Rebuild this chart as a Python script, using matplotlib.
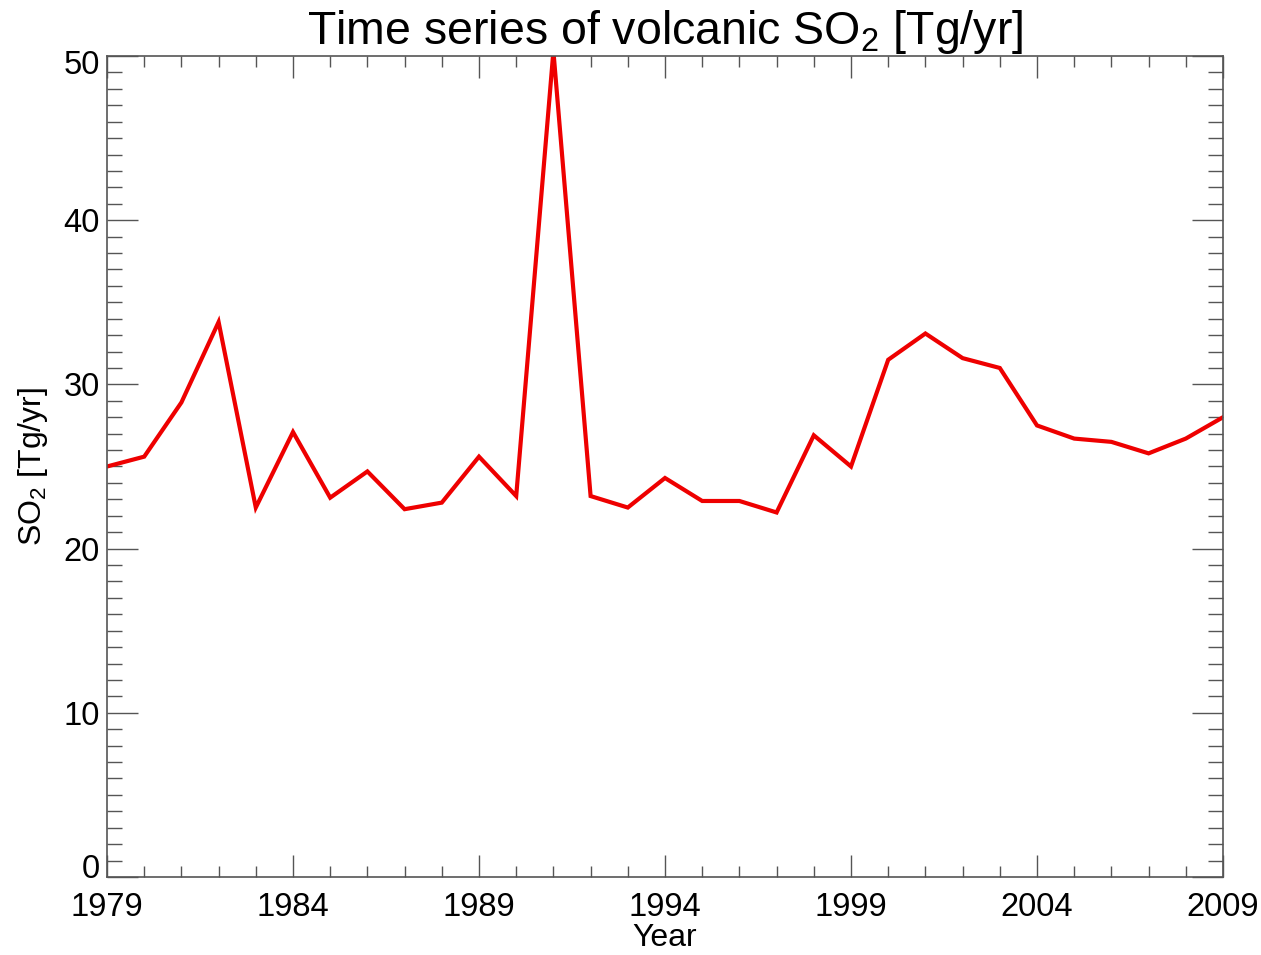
import matplotlib
matplotlib.use('Agg')
import matplotlib.pyplot as plt
import matplotlib.transforms as mtransforms
from matplotlib.ticker import MultipleLocator

plt.rcParams['font.family'] = ['Liberation Sans', 'DejaVu Sans']
plt.rcParams['mathtext.fontset'] = 'custom'
plt.rcParams['mathtext.rm'] = 'Liberation Sans'
plt.rcParams['mathtext.it'] = 'Liberation Sans:italic'

# Annual volcanic SO2 emission
years = list(range(1979, 2010))
so2 = [25.0, 25.6, 28.9, 33.8, 22.5, 27.1, 23.1, 24.7, 22.4, 22.8,
       25.6, 23.2, 50.3, 23.2, 22.5, 24.3, 22.9, 22.9, 22.2, 26.9,
       25.0, 31.5, 33.1, 31.6, 31.0, 27.5, 26.7, 26.5, 25.8, 26.7,
       28.0]
xticks = [1979, 1984, 1989, 1994, 1999, 2004, 2009]
yticks = [0, 10, 20, 30, 40, 50]

fig = plt.figure(figsize=(12.61, 9.55), dpi=100)
ax = fig.add_axes([107/1261, 1 - 877/955, (1223 - 107)/1261, (877 - 56)/955])

ax.plot(years, so2, color='#ee0000', lw=3.0, solid_joinstyle='miter')

ax.set_xlim(1979, 2009)
ax.set_ylim(0, 50)
ax.set_xticks(xticks)
ax.set_yticks(yticks)
ax.xaxis.set_minor_locator(MultipleLocator(1))
ax.yaxis.set_minor_locator(MultipleLocator(1))
ax.tick_params(which='both', direction='in', top=True, right=True,
               color='#555555', width=1.0, labelsize=23.5)
ax.tick_params(axis='x', which='major', length=16, pad=11)
ax.tick_params(axis='x', which='minor', length=8)
ax.tick_params(axis='y', which='major', length=22, pad=5)
ax.tick_params(axis='y', which='minor', length=11)
for s in ax.spines.values():
    s.set_color('#555555')
    s.set_linewidth(1.2)

# nudge the end labels inside the axis range, like IDL does
ylabels = ax.get_yticklabels()
for lab, dy in [(ylabels[0], 11), (ylabels[-1], -6)]:
    lab.set_transform(lab.get_transform() +
                      mtransforms.ScaledTranslation(0, dy/100, fig.dpi_scale_trans))

ax.set_title(r'Time series of volcanic SO$_\mathrm{2}$ [Tg/yr]', fontsize=33.5, pad=4)
ax.set_xlabel('Year', fontsize=23, labelpad=0)
ax.set_ylabel(r'SO$_\mathrm{2}$ [Tg/yr]', fontsize=23, labelpad=10)

fig.savefig('out.png', dpi=100)
